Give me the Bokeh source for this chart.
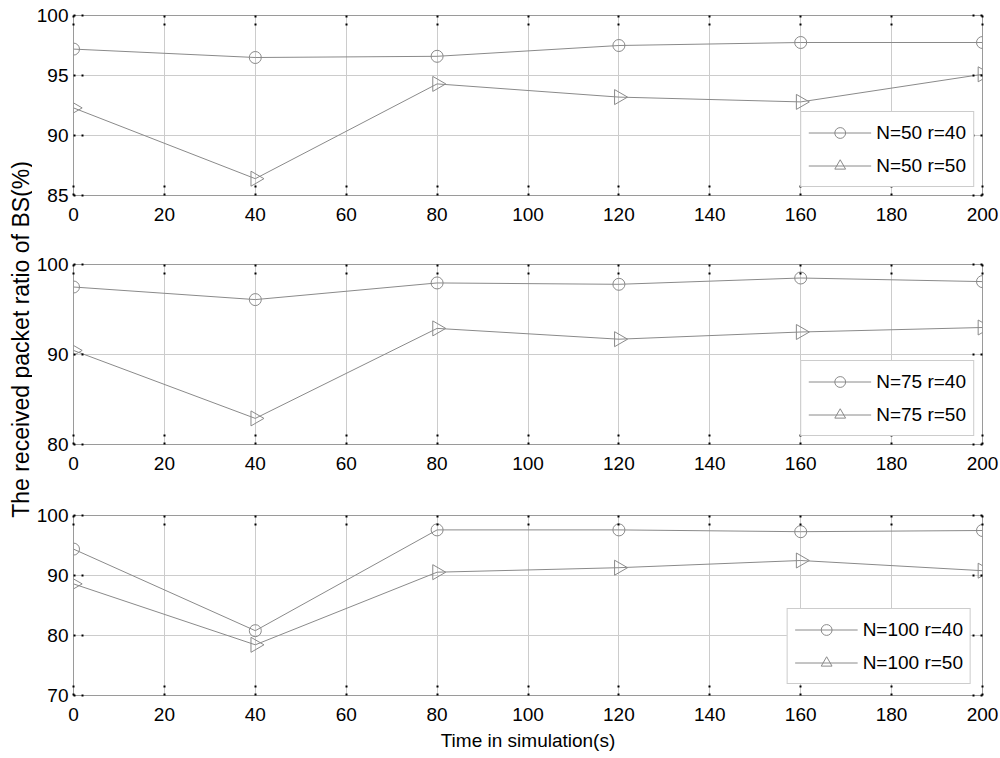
import math
from bokeh.plotting import figure
from bokeh.layouts import row, column
from bokeh.models import Range1d, FixedTicker, LinearAxis, Label, Legend, CustomJSTickFormatter
from bokeh.embed import file_html
from bokeh.resources import INLINE

# ---------------- data ----------------
time_s = [0, 40, 80, 120, 160, 200]
x_ticks = [0, 20, 40, 60, 80, 100, 120, 140, 160, 180, 200]

n50_r40 = [97.2, 96.5, 96.6, 97.5, 97.75, 97.75]
n50_r50 = [92.3, 86.4, 94.3, 93.2, 92.8, 95.1]
n75_r40 = [97.5, 96.1, 97.95, 97.8, 98.5, 98.1]
n75_r50 = [90.45, 82.9, 92.9, 91.7, 92.5, 93.0]
n100_r40 = [94.4, 80.8, 97.6, 97.6, 97.3, 97.5]
n100_r50 = [88.6, 78.45, 90.55, 91.3, 92.5, 90.8]

labels_1 = ["N=50 r=40", "N=50 r=50"]
labels_2 = ["N=75 r=40", "N=75 r=50"]
labels_3 = ["N=100 r=40", "N=100 r=50"]

y_ticks_1 = [85, 90, 95, 100]
y_ticks_2 = [80, 90, 100]
y_ticks_3 = [70, 80, 90, 100]

y_label = "The received packet ratio of BS(%)"
x_label = "Time in simulation(s)"

# ---------------- style ----------------
FONT = "Liberation Sans"
FS = "19px"
LINE_COL = "#8a8a8a"
GRID_COL = "#cccccc"
FRAME_COL = "#9a9a9a"
PANEL_W = 968


def style_axis(ax, show_labels=True):
    ax.major_tick_in = 10
    ax.major_tick_out = 0
    ax.major_tick_line_color = "black"
    ax.major_tick_line_width = 2
    ax.major_tick_line_dash = "2 6"
    ax.minor_tick_line_color = None
    ax.axis_line_color = None
    ax.major_label_text_font = FONT
    ax.major_label_text_color = "black"
    ax.major_label_text_font_size = FS
    if not show_labels:
        ax.formatter = CustomJSTickFormatter(code="return ''")
        ax.major_label_standoff = 0


def panel(ya, yb, yticks, s1, s2, labs, height, top, bottom, legend_margin, last=False):
    p = figure(width=PANEL_W, height=height, output_backend="svg", toolbar_location=None,
               x_range=Range1d(0, 200), y_range=Range1d(ya, yb),
               min_border_left=41, min_border_right=PANEL_W - 41 - 909,
               min_border_top=top, min_border_bottom=bottom)
    p.outline_line_color = FRAME_COL
    p.outline_line_width = 1
    p.background_fill_color = "white"
    p.border_fill_color = "white"

    xax = p.xaxis[0]
    yax = p.yaxis[0]
    xax.ticker = FixedTicker(ticks=x_ticks)
    yax.ticker = FixedTicker(ticks=yticks)
    style_axis(xax)
    style_axis(yax)
    xax.major_label_standoff = 12
    yax.major_label_standoff = 5

    p.xgrid.ticker = FixedTicker(ticks=x_ticks)
    p.ygrid.ticker = FixedTicker(ticks=yticks)
    p.grid.grid_line_color = GRID_COL
    p.grid.grid_line_width = 1

    top_ax = LinearAxis(ticker=FixedTicker(ticks=x_ticks))
    style_axis(top_ax, show_labels=False)
    p.add_layout(top_ax, "above")
    right_ax = LinearAxis(ticker=FixedTicker(ticks=yticks))
    style_axis(right_ax, show_labels=False)
    p.add_layout(right_ax, "right")

    l1 = p.line(time_s, s1, line_color=LINE_COL, line_width=1)
    m1 = p.scatter(time_s, s1, marker="circle", size=12, fill_color=None,
                   line_color=LINE_COL, line_width=1)
    l2 = p.line(time_s, s2, line_color=LINE_COL, line_width=1)
    m2 = p.scatter(time_s, s2, marker="triangle", size=15, angle=-math.pi / 2,
                   fill_color=None, line_color=LINE_COL, line_width=1)

    leg = Legend(items=[(labs[0], [l1, m1]), (labs[1], [l2, m2])],
                 location="bottom_right", margin=legend_margin, padding=7,
                 spacing=6, glyph_width=63, glyph_height=27, label_height=27,
                 label_standoff=5, label_text_font=FONT, label_text_font_size=FS,
                 label_text_color="black", border_line_color=FRAME_COL,
                 background_fill_color="white", background_fill_alpha=1)
    p.add_layout(leg, "center")

    if last:
        xax.axis_label = x_label
        xax.axis_label_text_font = FONT
        xax.axis_label_text_font_size = FS
        xax.axis_label_text_font_style = "normal"
        xax.axis_label_text_color = "black"
        xax.axis_label_standoff = 6
    return p


p1 = panel(85, 100, y_ticks_1, n50_r40, n50_r50, labels_1, 230, 15, 35, 8)
p2 = panel(80, 100, y_ticks_2, n75_r40, n75_r50, labels_2, 250, 34, 36, 8)
p3 = panel(70, 100, y_ticks_3, n100_r40, n100_r50, labels_3, 278, 35, 63, 11, last=True)

TOTAL_H = 758
LAB_W = 32
lab = figure(width=LAB_W, height=TOTAL_H, output_backend="svg", toolbar_location=None,
             x_range=Range1d(0, LAB_W), y_range=Range1d(0, TOTAL_H),
             x_axis_location=None, y_axis_location=None, min_border=0)
lab.grid.visible = False
lab.outline_line_color = None
lab.border_fill_color = "white"
lab.add_layout(Label(x=20, y=TOTAL_H - 339, text=y_label, angle=math.pi / 2,
                     text_align="center", text_baseline="middle",
                     text_font=FONT, text_font_size="23px", text_color="black"))

layout = row(lab, column(p1, p2, p3))

open("out.html", "w").write(file_html(layout, INLINE))
